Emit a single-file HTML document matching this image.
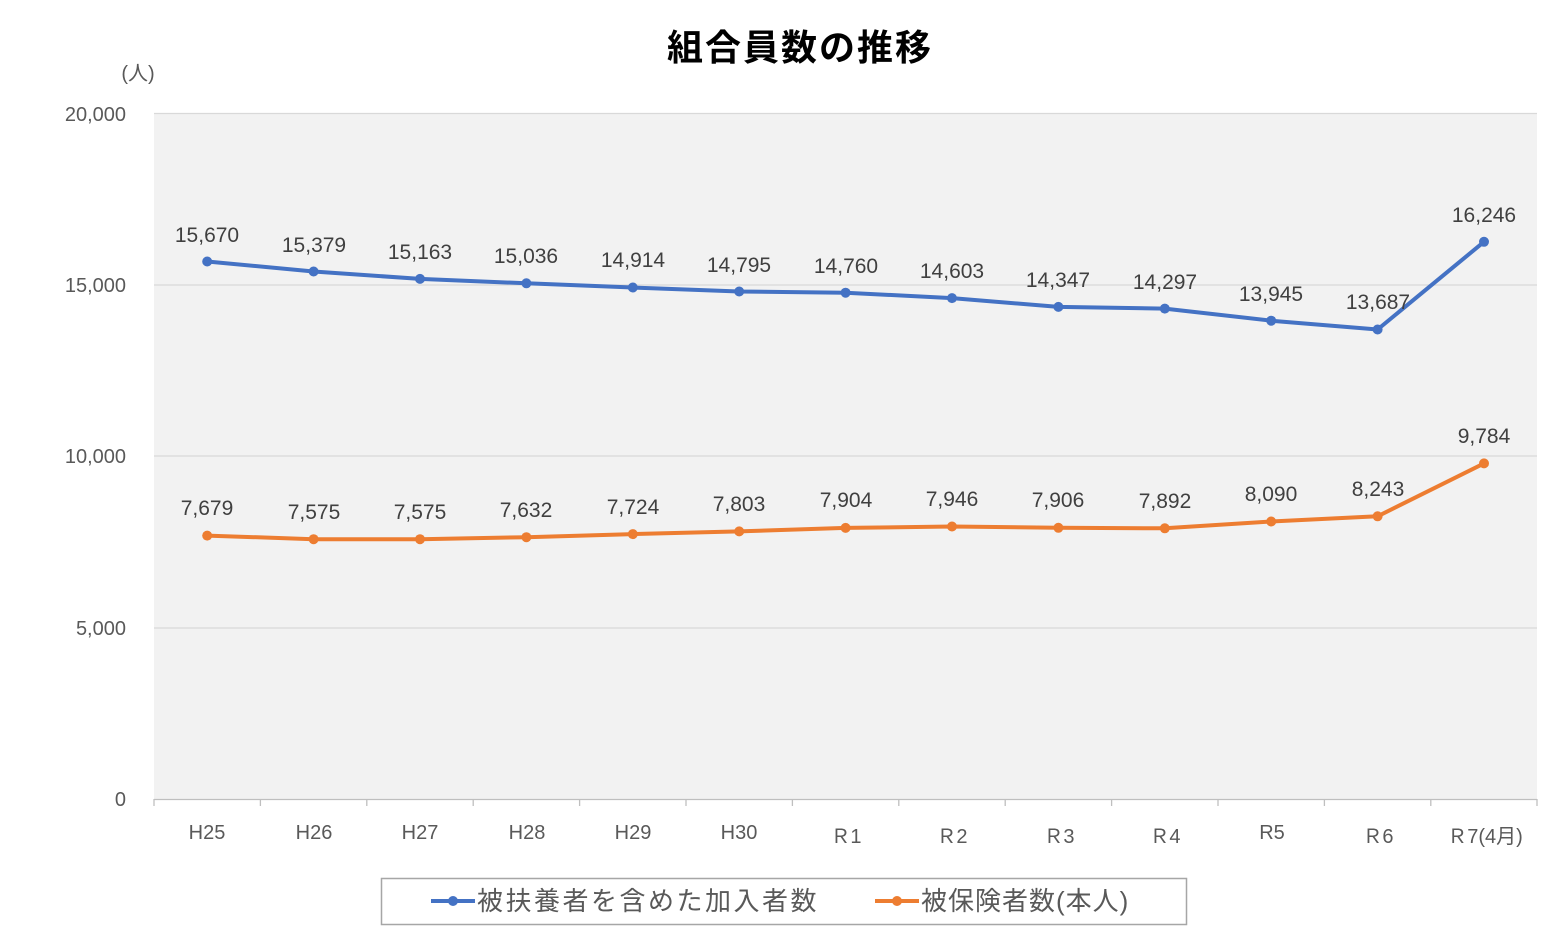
<!DOCTYPE html>
<html><head><meta charset="utf-8"><style>
body{margin:0;background:#fff;}
svg text{font-family:"Liberation Sans","Noto Sans CJK JP",sans-serif;}
</style></head><body>
<svg width="1568" height="938" xmlns="http://www.w3.org/2000/svg">
<rect x="154" y="113" width="1383" height="686" fill="#f2f2f2"/>
<g stroke="#d9d9d9" stroke-width="1.3">
<line x1="154" y1="113.5" x2="1537" y2="113.5"/>
<line x1="154" y1="285" x2="1537" y2="285"/>
<line x1="154" y1="456" x2="1537" y2="456"/>
<line x1="154" y1="628" x2="1537" y2="628"/>
</g>
<g stroke="#bfbfbf" stroke-width="1.3">
<line x1="154" y1="799.5" x2="1537" y2="799.5"/>
<line x1="154" y1="799" x2="154" y2="806"/><line x1="260.4" y1="799" x2="260.4" y2="806"/><line x1="366.8" y1="799" x2="366.8" y2="806"/><line x1="473.2" y1="799" x2="473.2" y2="806"/><line x1="579.6" y1="799" x2="579.6" y2="806"/><line x1="686" y1="799" x2="686" y2="806"/><line x1="792.4" y1="799" x2="792.4" y2="806"/><line x1="898.8" y1="799" x2="898.8" y2="806"/><line x1="1005.2" y1="799" x2="1005.2" y2="806"/><line x1="1111.6" y1="799" x2="1111.6" y2="806"/><line x1="1218" y1="799" x2="1218" y2="806"/><line x1="1324.4" y1="799" x2="1324.4" y2="806"/><line x1="1430.8" y1="799" x2="1430.8" y2="806"/><line x1="1537" y1="799" x2="1537" y2="806"/>
</g>
<text x="800" y="60" font-size="36" font-weight="bold" text-anchor="middle" letter-spacing="2" fill="#000">組合員数の推移</text>
<text x="138" y="80" font-size="20" text-anchor="middle" fill="#595959">(人)</text>
<g font-size="20" fill="#595959" text-anchor="end">
<text x="126" y="121">20,000</text><text x="126" y="292">15,000</text><text x="126" y="463">10,000</text><text x="126" y="635">5,000</text><text x="126" y="806">0</text>
</g>
<g font-size="20" fill="#595959" text-anchor="middle">
<text x="207" y="839">H25</text><text x="314" y="839">H26</text><text x="420" y="839">H27</text><text x="527" y="839">H28</text><text x="633" y="839">H29</text><text x="739" y="839">H30</text><text x="846" y="843">Ｒ1</text><text x="952" y="843">Ｒ2</text><text x="1059" y="843">Ｒ3</text><text x="1165" y="843">Ｒ4</text><text x="1272" y="839">R5</text><text x="1378" y="843">Ｒ6</text><text x="1485" y="843">Ｒ7(4月)</text>
</g>
<polyline fill="none" stroke="#4472c4" stroke-width="4" stroke-linejoin="round" points="207.2,261.5 313.6,271.5 420,278.9 526.4,283.3 632.8,287.5 739.2,291.5 845.6,292.7 952,298.1 1058.4,306.9 1164.8,308.6 1271.2,320.7 1377.6,329.5 1484,241.8"/>
<polyline fill="none" stroke="#ed7d31" stroke-width="4" stroke-linejoin="round" points="207.2,535.6 313.6,539.2 420,539.2 526.4,537.2 632.8,534.1 739.2,531.4 845.6,527.9 952,526.5 1058.4,527.8 1164.8,528.3 1271.2,521.5 1377.6,516.3 1484,463.4"/>
<g fill="#4472c4">
<circle cx="207.2" cy="261.5" r="5"/><circle cx="313.6" cy="271.5" r="5"/><circle cx="420" cy="278.9" r="5"/><circle cx="526.4" cy="283.3" r="5"/><circle cx="632.8" cy="287.5" r="5"/><circle cx="739.2" cy="291.5" r="5"/><circle cx="845.6" cy="292.7" r="5"/><circle cx="952" cy="298.1" r="5"/><circle cx="1058.4" cy="306.9" r="5"/><circle cx="1164.8" cy="308.6" r="5"/><circle cx="1271.2" cy="320.7" r="5"/><circle cx="1377.6" cy="329.5" r="5"/><circle cx="1484" cy="241.8" r="5"/>
</g>
<g fill="#ed7d31">
<circle cx="207.2" cy="535.6" r="5"/><circle cx="313.6" cy="539.2" r="5"/><circle cx="420" cy="539.2" r="5"/><circle cx="526.4" cy="537.2" r="5"/><circle cx="632.8" cy="534.1" r="5"/><circle cx="739.2" cy="531.4" r="5"/><circle cx="845.6" cy="527.9" r="5"/><circle cx="952" cy="526.5" r="5"/><circle cx="1058.4" cy="527.8" r="5"/><circle cx="1164.8" cy="528.3" r="5"/><circle cx="1271.2" cy="521.5" r="5"/><circle cx="1377.6" cy="516.3" r="5"/><circle cx="1484" cy="463.4" r="5"/>
</g>
<g font-size="21" fill="#404040" text-anchor="middle">
<text x="207" y="242">15,670</text><text x="314" y="252">15,379</text><text x="420" y="259">15,163</text><text x="526" y="263">15,036</text><text x="633" y="267">14,914</text><text x="739" y="272">14,795</text><text x="846" y="273">14,760</text><text x="952" y="278">14,603</text><text x="1058" y="287">14,347</text><text x="1165" y="289">14,297</text><text x="1271" y="301">13,945</text><text x="1378" y="309">13,687</text><text x="1484" y="222">16,246</text>
<text x="207" y="515">7,679</text><text x="314" y="519">7,575</text><text x="420" y="519">7,575</text><text x="526" y="517">7,632</text><text x="633" y="514">7,724</text><text x="739" y="511">7,803</text><text x="846" y="507">7,904</text><text x="952" y="506">7,946</text><text x="1058" y="507">7,906</text><text x="1165" y="508">7,892</text><text x="1271" y="501">8,090</text><text x="1378" y="496">8,243</text><text x="1484" y="443">9,784</text>
</g>
<rect x="381.5" y="878.5" width="805" height="46" fill="#fff" stroke="#a6a6a6" stroke-width="1.5"/>
<line x1="431" y1="901" x2="475" y2="901" stroke="#4472c4" stroke-width="4"/><circle cx="453" cy="901" r="5" fill="#4472c4"/>
<text x="477" y="910" font-size="26" letter-spacing="2.5" fill="#595959">被扶養者を含めた加入者数</text>
<line x1="875" y1="901" x2="919" y2="901" stroke="#ed7d31" stroke-width="4"/><circle cx="897" cy="901" r="5" fill="#ed7d31"/>
<text x="921" y="910" font-size="26" letter-spacing="1" fill="#595959">被保険者数(本人)</text>
</svg>
</body></html>
